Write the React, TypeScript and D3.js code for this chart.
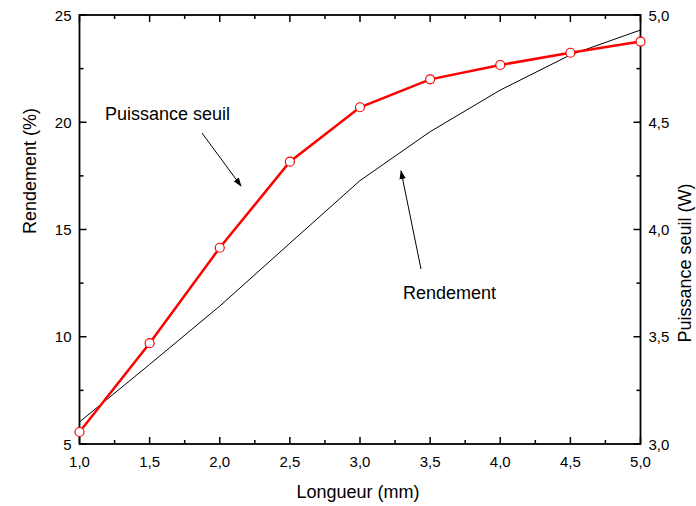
import React from "react";
import * as d3 from "d3";

const lengths = [1.0, 1.5, 2.0, 2.5, 3.0, 3.5, 4.0, 4.5, 5.0];
const rendement = [6.03, 8.71, 11.43, 14.36, 17.28, 19.56, 21.5, 23.14, 24.3];
const puissance = [3.056, 3.47, 3.915, 4.316, 4.57, 4.7, 4.767, 4.824, 4.876];
const xTicks = [1.0, 1.5, 2.0, 2.5, 3.0, 3.5, 4.0, 4.5, 5.0];
const yLeftTicks = [5, 10, 15, 20, 25];
const yRightTicks = [3.0, 3.5, 4.0, 4.5, 5.0];

const W = 696, H = 506;
const L = 79.5, R = 640.5, T = 15, B = 444;
const font = "'Liberation Sans', Arial, sans-serif";
const fmt = (v: number) => v.toFixed(1).replace(".", ",");

export default function App() {
  const x = d3.scaleLinear().domain([1, 5]).range([L, R]);
  const yL = d3.scaleLinear().domain([5, 25]).range([B, T]);
  const yR = d3.scaleLinear().domain([3, 5]).range([B, T]);
  const xMinor = d3.range(1, 5.001, 0.25);
  const yMinor = d3.range(5, 25.001, 2.5);
  const lineL = d3.line<number>().x((_, i) => x(lengths[i])).y((d) => yL(d));
  const lineR = d3.line<number>().x((_, i) => x(lengths[i])).y((d) => yR(d));
  const maj = 7, mn = 4;
  return (
    <svg width={W} height={H} style={{ position: "absolute", left: 0, top: 0, background: "#fff" }} fontFamily={font}>
      <defs>
        <marker id="ah" viewBox="0 0 10 10" refX="9" refY="5" markerWidth="9" markerHeight="9" orient="auto" markerUnits="userSpaceOnUse">
          <path d="M0,1.5 L10,5 L0,8.5 Z" fill="#000" />
        </marker>
      </defs>
      <rect width={W} height={H} fill="#fff" />
      {xMinor.map((v, i) => {
        const len = Math.abs((v * 2) - Math.round(v * 2)) < 1e-6 ? maj : mn;
        return (
          <g key={"xt" + i} stroke="#000" strokeWidth={1.5}>
            <line x1={x(v)} x2={x(v)} y1={B} y2={B - len} />
            <line x1={x(v)} x2={x(v)} y1={T} y2={T + len} />
          </g>
        );
      })}
      {yMinor.map((v, i) => {
        const len = Math.abs(v / 5 - Math.round(v / 5)) < 1e-6 ? maj : mn;
        return (
          <g key={"yt" + i} stroke="#000" strokeWidth={1.5}>
            <line x1={L} x2={L + len} y1={yL(v)} y2={yL(v)} />
            <line x1={R} x2={R - len} y1={yL(v)} y2={yL(v)} />
          </g>
        );
      })}
      <rect x={L} y={T} width={R - L} height={B - T} fill="none" stroke="#000" strokeWidth={1.8} />
      {xTicks.map((v) => (
        <text key={"xl" + v} x={x(v)} y={B + 23} fontSize={15} textAnchor="middle">{fmt(v)}</text>
      ))}
      {yLeftTicks.map((v) => (
        <text key={"yl" + v} x={L - 8} y={yL(v) + 5.5} fontSize={15} textAnchor="end">{v}</text>
      ))}
      {yRightTicks.map((v) => (
        <text key={"yr" + v} x={R + 8} y={yR(v) + 5.5} fontSize={15} textAnchor="start">{fmt(v)}</text>
      ))}
      <text x={358} y={498} fontSize={18} textAnchor="middle">Longueur (mm)</text>
      <text transform={`translate(36,171) rotate(-90)`} fontSize={18} textAnchor="middle">Rendement (%)</text>
      <text transform={`translate(691,263) rotate(-90)`} fontSize={18} textAnchor="middle">Puissance seuil (W)</text>
      <path d={lineL(rendement) || ""} fill="none" stroke="#000" strokeWidth={1} />
      <path d={lineR(puissance) || ""} fill="none" stroke="#ff0000" strokeWidth={2.5} />
      {puissance.map((v, i) => (
        <circle key={"m" + i} cx={x(lengths[i])} cy={yR(v)} r={4.5} fill="#fff" stroke="#ff0000" strokeWidth={1.2} />
      ))}
      <text x={105} y={120} fontSize={18}>Puissance seuil</text>
      <line x1={202} y1={133} x2={241} y2={186} stroke="#000" strokeWidth={1} markerEnd="url(#ah)" />
      <text x={403} y={299} fontSize={18}>Rendement</text>
      <line x1={421} y1={269} x2={401} y2={171} stroke="#000" strokeWidth={1} markerEnd="url(#ah)" />
    </svg>
  );
}
